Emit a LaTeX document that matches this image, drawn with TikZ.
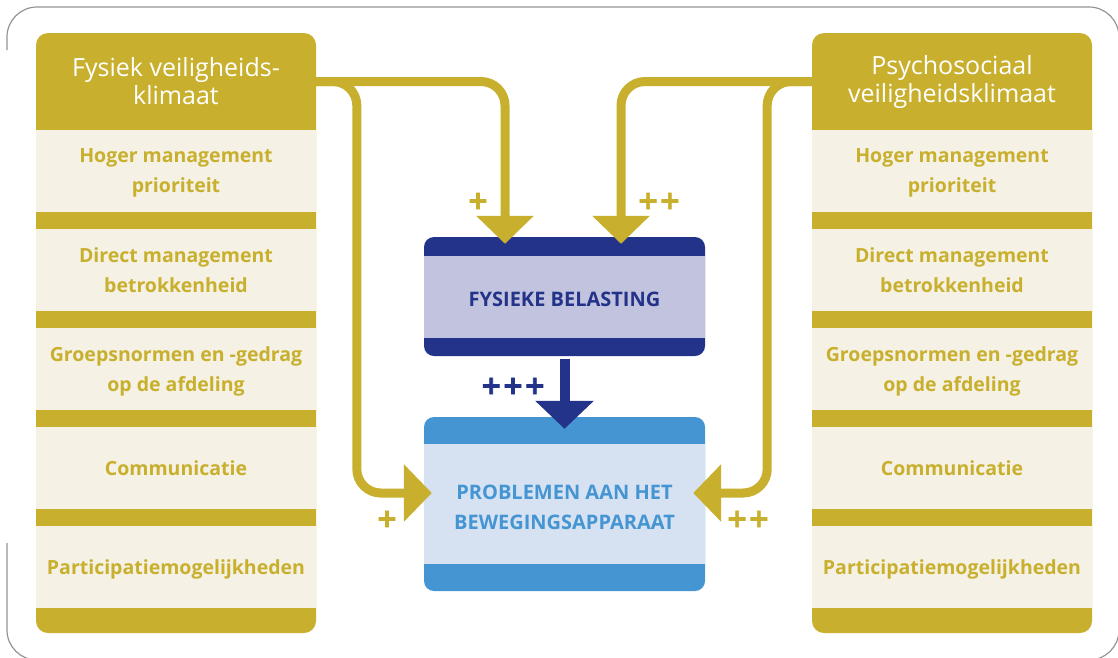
\documentclass[tikz,border=0pt]{standalone}
\usepackage{fontspec}
\setmainfont{Open Sans}
\newfontfamily\plusfont[BoldFeatures={FakeBold=2.5}]{DejaVu Sans}
\usetikzlibrary{arrows.meta,calc}
\definecolor{vk-gold}{RGB}{200,176,46}
\definecolor{vk-cream}{RGB}{245,241,228}
\definecolor{vk-navy}{RGB}{35,51,137}
\definecolor{vk-lilac}{RGB}{194,195,222}
\definecolor{vk-blue}{RGB}{68,149,210}
\definecolor{vk-lightblue}{RGB}{214,226,242}
\definecolor{vk-frame}{RGB}{150,146,152}

\tikzset{
    head/.style={text=white, minimum width=280pt, minimum height=97pt, align=center,
        font=\fontsize{25}{28}\selectfont},
    item/.style={fill=vk-cream, text=vk-gold, minimum width=280pt, minimum height=82pt,
        align=center, text depth=0pt, font=\fontsize{19.5}{30}\selectfont\bfseries},
    box/.style={minimum width=281pt, minimum height=119pt, align=center,
        font=\fontsize{20}{30}\selectfont\bfseries},
    goldline/.style={vk-gold, line width=9pt, rounded corners=24pt,
        -{Triangle[width=56pt,length=28pt]}},
    plus/.style={font=\plusfont\bfseries\fontsize{26}{26}\selectfont},
}

\begin{document}
\begin{tikzpicture}[x=1pt,y=-1pt]
    \useasboundingbox (0,0) rectangle (1118,657);
    \draw[vk-frame, line width=1.2pt, rounded corners=30pt] (7,50) |- (1119,7) |- (7,660) -- (7,543);

    % left column
    \fill[vk-gold, rounded corners=12pt] (36,33) rectangle (316,633);
    \node[head] (fysiek) at (176,81.5) {Fysiek veiligheids-\\klimaat};
    \node[item] (lhoger) at (176,171) {Hoger management\\prioriteit};
    \node[item] (ldirect) at (176,270) {Direct management\\betrokkenheid};
    \node[item] (lgroep) at (176,369) {Groepsnormen en -gedrag\\op de afdeling};
    \node[item] (lcomm) at (176,468) {Communicatie};
    \node[item] (lpart) at (176,567) {Participatiemogelijkheden};

    % right column
    \fill[vk-gold, rounded corners=12pt] (812,33) rectangle (1092,633);
    \node[head] (psycho) at (952,81.5) {Psychosociaal\\veiligheidsklimaat};
    \node[item] (rhoger) at (952,171) {Hoger management\\prioriteit};
    \node[item] (rdirect) at (952,270) {Direct management\\betrokkenheid};
    \node[item] (rgroep) at (952,369) {Groepsnormen en -gedrag\\op de afdeling};
    \node[item] (rcomm) at (952,468) {Communicatie};
    \node[item] (rpart) at (952,567) {Participatiemogelijkheden};

    % middle boxes
    \fill[vk-navy, rounded corners=10pt] (424,237) rectangle (705,356);
    \fill[vk-lilac] (424,256) rectangle (705,338);
    \node[box, text=vk-navy] (belasting) at (564.5,299.5) {FYSIEKE BELASTING};

    \fill[vk-blue, rounded corners=10pt] (424,417) rectangle (705,591);
    \fill[vk-lightblue] (424,444) rectangle (705,564);
    \node[box, text=vk-blue, minimum height=174pt] (problemen) at (564.5,507) {PROBLEMEN AAN HET\\BEWEGINGSAPPARAAT};

    \draw[vk-navy, line width=10pt, -{Triangle[width=57pt,length=28pt]}]
        (belasting.south) -- ($(problemen.north)+(0,9)$);

    \draw[goldline] (fysiek.east) -| ($(belasting.north)+(-59.5,4)$);
    \draw[goldline] (fysiek.east) -| ($(problemen.west)+(-67,-14)$) -- ($(problemen.west)+(8,-14)$);
    \draw[goldline] (psycho.west) -| ($(belasting.north)+(56.5,4)$);
    \draw[goldline] (psycho.west) -| ($(problemen.east)+(62,-14)$) -- ($(problemen.east)+(-12,-14)$);

    \node[plus, text=vk-gold] (plusa) at (478,201) {+};
    \node[plus, text=vk-gold] (plusb) at (659,201) {++};
    \node[plus, text=vk-gold] (plusc) at (387,519) {+};
    \node[plus, text=vk-gold] (plusd) at (748,519) {++};
    \node[plus, text=vk-navy] (pluse) at (513,386) {+++};
\end{tikzpicture}
\end{document}
